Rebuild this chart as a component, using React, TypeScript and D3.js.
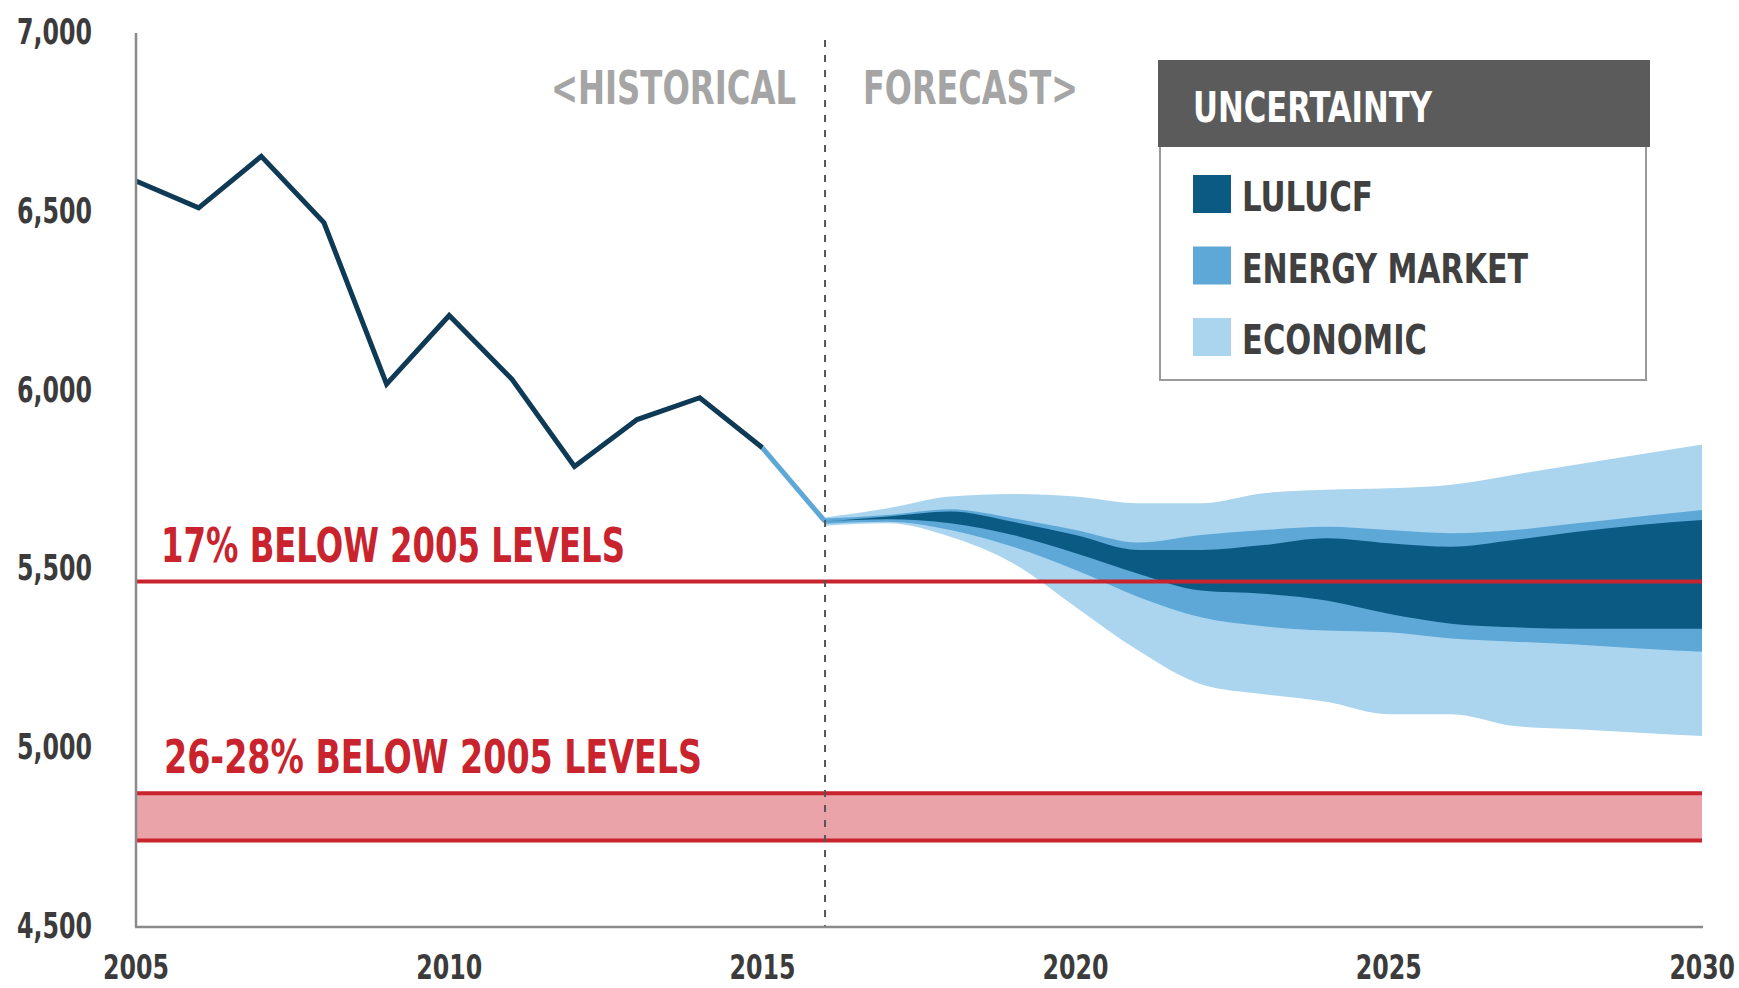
import React from "react";
import * as d3 from "d3";

// ---------- data ----------
const histYears = [2005, 2006, 2007, 2008, 2009, 2010, 2011, 2012, 2013, 2014, 2015, 2016];
const histValues = [6586, 6511, 6655, 6470, 6018, 6210, 6032, 5788, 5919, 5980, 5840, 5634];

const fcYears = [2016, 2017, 2018, 2019, 2020, 2021, 2022, 2023, 2024, 2025, 2026, 2027, 2028, 2029, 2030];
const econHigh = [5645, 5671, 5704, 5711, 5704, 5685, 5685, 5713, 5723, 5727, 5737, 5765, 5793, 5821, 5849];
const econLow = [5622, 5629, 5591, 5517, 5395, 5273, 5179, 5151, 5130, 5095, 5095, 5062, 5053, 5043, 5034];
const energyHigh = [5642, 5652, 5668, 5643, 5610, 5575, 5596, 5610, 5619, 5610, 5601, 5610, 5629, 5648, 5666];
const energyLow = [5628, 5633, 5610, 5563, 5498, 5423, 5366, 5341, 5329, 5324, 5307, 5298, 5290, 5279, 5270];
const lulucfHigh = [5634, 5648, 5662, 5633, 5596, 5554, 5554, 5568, 5587, 5573, 5563, 5582, 5605, 5624, 5638];
const lulucfLow = [5634, 5640, 5629, 5596, 5545, 5488, 5441, 5432, 5413, 5376, 5348, 5338, 5334, 5334, 5334];

const target17 = 5466; // 17% below 2005
const target26 = 4874; // 26% below 2005
const target28 = 4742; // 28% below 2005

const yTicks = [4500, 5000, 5500, 6000, 6500, 7000];
const xTicks = [2005, 2010, 2015, 2020, 2025, 2030];
const dividerYear = 2016;

const legendItems = ["LULUCF", "ENERGY MARKET", "ECONOMIC"];

// ---------- styles ----------
const FONT = "'Liberation Sans Narrow', 'DejaVu Sans Condensed', 'Roboto', sans-serif";
const C_DARK_LINE = "#0e3a56";
const C_LULUCF = "#0b5a84";
const C_ENERGY = "#5ea8d7";
const C_ECON = "#abd5ef";
const C_RED = "#c9232d";
const C_RED_FILL = "#eaa3a8";
const legendColors = [C_LULUCF, C_ENERGY, C_ECON];
const legendWidths = [131, 286, 185];

export default function App() {
  const W = 1739;
  const H = 988;
  const x = d3.scaleLinear().domain([2005, 2030]).range([136, 1702]);
  const y = d3.scaleLinear().domain([4500, 7000]).range([927, 33]);

  const fc = fcYears.map((yr, i) => ({
    yr,
    eh: econHigh[i],
    el: econLow[i],
    nh: energyHigh[i],
    nl: energyLow[i],
    lh: lulucfHigh[i],
    ll: lulucfLow[i],
  }));

  const curve = d3.curveMonotoneX;
  const areaEcon = d3.area<any>().x((d) => x(d.yr)).y0((d) => y(d.el)).y1((d) => y(d.eh)).curve(curve);
  const areaEnergy = d3.area<any>().x((d) => x(d.yr)).y0((d) => y(d.nl)).y1((d) => y(d.nh)).curve(curve);
  const areaLulucf = d3.area<any>().x((d) => x(d.yr)).y0((d) => y(d.ll)).y1((d) => y(d.lh)).curve(curve);

  const hist = histYears.map((yr, i) => ({ yr, v: histValues[i] }));
  const lineGen = d3.line<any>().x((d) => x(d.yr)).y((d) => y(d.v));
  const histDark = hist.filter((d) => d.yr <= 2015);
  const histTrans = hist.filter((d) => d.yr >= 2015);

  const x0 = x(2005);
  const x1 = x(2030);

  return (
    <svg
      width={W}
      height={H}
      style={{ position: "absolute", left: 0, top: 0, background: "#fff" }}
      fontFamily={FONT}
      fontWeight="bold"
    >
      {/* uncertainty bands */}
      <path d={areaEcon(fc) || ""} fill={C_ECON} />
      <path d={areaEnergy(fc) || ""} fill={C_ENERGY} />
      <path d={areaLulucf(fc) || ""} fill={C_LULUCF} />

      {/* target band 26-28% */}
      <rect x={x0} y={y(target26)} width={x1 - x0} height={y(target28) - y(target26)} fill={C_RED_FILL} />
      <line x1={x0} x2={x1} y1={y(target26)} y2={y(target26)} stroke={C_RED} strokeWidth={4} />
      <line x1={x0} x2={x1} y1={y(target28)} y2={y(target28)} stroke={C_RED} strokeWidth={4} />
      {/* 17% line */}
      <line x1={x0} x2={x1} y1={y(target17)} y2={y(target17)} stroke={C_RED} strokeWidth={4} />

      {/* historical line */}
      <path d={lineGen(histTrans) || ""} fill="none" stroke={C_ENERGY} strokeWidth={5} strokeLinejoin="round" />
      <path d={lineGen(histDark) || ""} fill="none" stroke={C_DARK_LINE} strokeWidth={5} strokeLinejoin="miter" />

      {/* divider */}
      <line
        x1={x(dividerYear)}
        x2={x(dividerYear)}
        y1={40}
        y2={927}
        stroke="#555"
        strokeWidth={2}
        strokeDasharray="7 8"
      />

      {/* axes */}
      <line x1={x0} x2={x0} y1={y(7000)} y2={y(4500)} stroke="#8a8a8a" strokeWidth={2.5} />
      <line x1={x0 - 1} x2={x1 + 1} y1={y(4500)} y2={y(4500)} stroke="#8a8a8a" strokeWidth={2.5} />

      {yTicks.map((t) => (
        <text
          key={t}
          x={92}
          y={y(t) + 11}
          textAnchor="end"
          fontSize={36}
          fill="#3b3b3b"
          textLength={75}
          lengthAdjust="spacingAndGlyphs"
        >
          {d3.format(",")(t)}
        </text>
      ))}
      {xTicks.map((t, i) => {
        const last = i === xTicks.length - 1;
        if (last) {
          return (
            <text
              key={t}
              transform={`translate(1735,979) scale(0.8,1)`}
              textAnchor="end"
              fontSize={34}
              fill="#3b3b3b"
              textLength={82}
              lengthAdjust="spacingAndGlyphs"
            >
              {t}
            </text>
          );
        }
        return (
          <text
            key={t}
            x={x(t)}
            y={979}
            textAnchor="middle"
            fontSize={34}
            fill="#3b3b3b"
            textLength={66}
            lengthAdjust="spacingAndGlyphs"
          >
            {t}
          </text>
        );
      })}

      {/* annotations */}
      <text x={161} y={562} fontSize={48} fill={C_RED} textLength={464} lengthAdjust="spacingAndGlyphs">
        17% BELOW 2005 LEVELS
      </text>
      <text x={164} y={773} fontSize={46} fill={C_RED} textLength={538} lengthAdjust="spacingAndGlyphs">
        26-28% BELOW 2005 LEVELS
      </text>
      <text x={551} y={104} fontSize={46} fill="#a5a5a5" textLength={245} lengthAdjust="spacingAndGlyphs">
        {"<HISTORICAL"}
      </text>
      <text x={863} y={104} fontSize={46} fill="#a5a5a5" textLength={215} lengthAdjust="spacingAndGlyphs">
        {"FORECAST>"}
      </text>

      {/* legend */}
      <rect x={1160} y={146} width={486} height={234} fill="#fff" stroke="#9a9a9a" strokeWidth={2} />
      <rect x={1158} y={60} width={492} height={87} fill="#5b5b5b" />
      <text x={1193} y={122} fontSize={42} fill="#fff" textLength={239} lengthAdjust="spacingAndGlyphs">
        UNCERTAINTY
      </text>
      {legendItems.map((name, i) => {
        const top = 175 + i * 71.5;
        return (
          <g key={name}>
            <rect x={1193} y={top} width={38} height={38} fill={legendColors[i]} />
            <text
              x={1242}
              y={top + 36}
              fontSize={41}
              fill="#404040"
              textLength={legendWidths[i]}
              lengthAdjust="spacingAndGlyphs"
            >
              {name}
            </text>
          </g>
        );
      })}
    </svg>
  );
}
